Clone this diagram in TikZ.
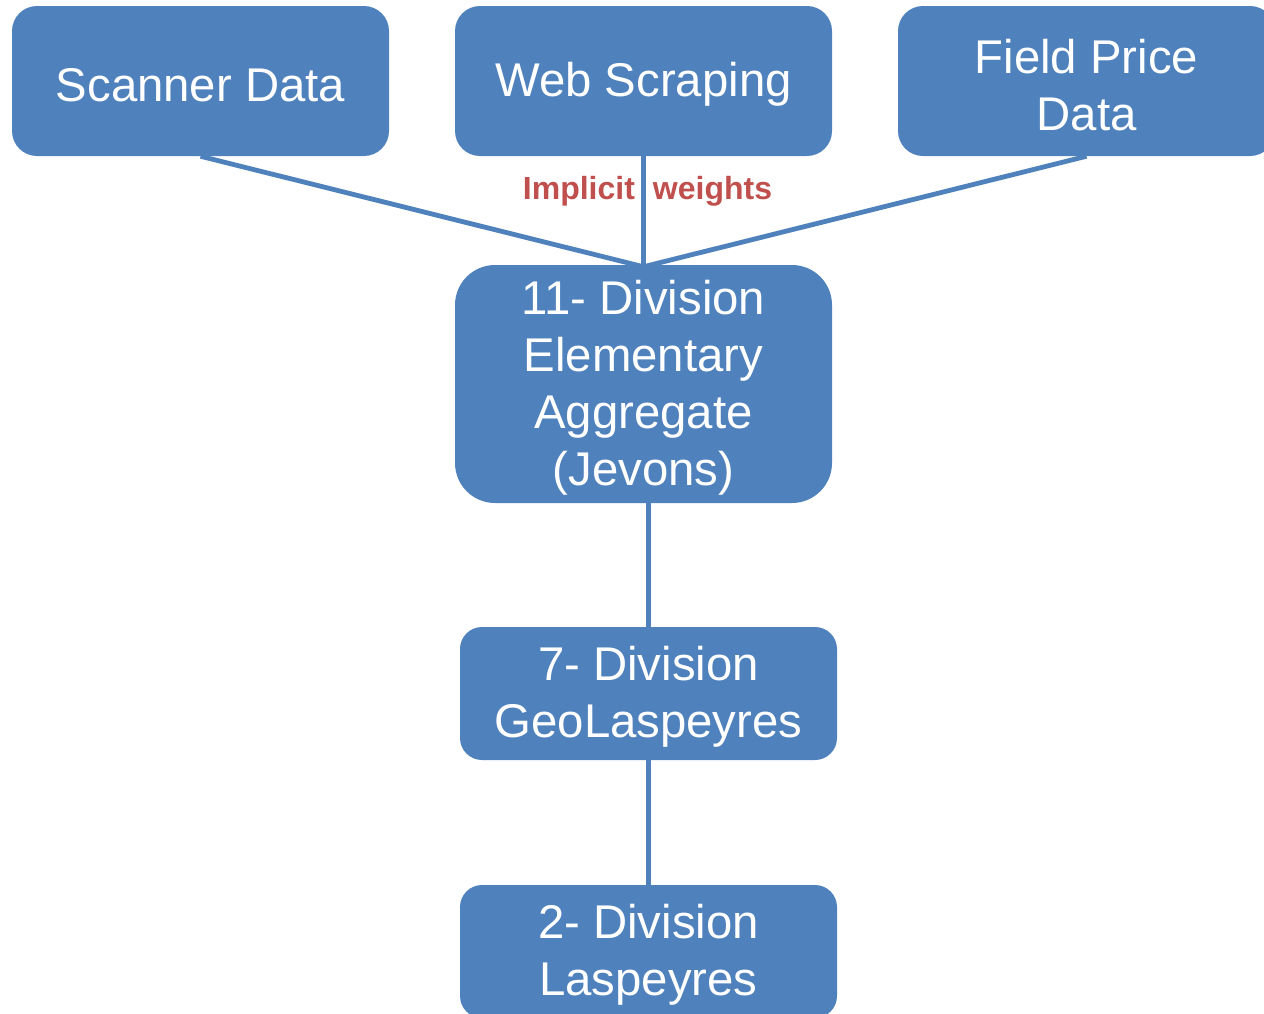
\documentclass[tikz,border=0pt]{standalone}
\usepackage{fontspec}
\setmainfont{Liberation Sans}
\definecolor{boxblue}{HTML}{4F81BD}
\definecolor{labelred}{HTML}{C0504D}
% raises the top line a little so box text sits slightly low, as in slide text frames
\newcommand{\topstrut}{\rule{0pt}{0.88em}}
\begin{document}
\begin{tikzpicture}[x=0.75pt,y=-0.75pt,
  box/.style={fill=boxblue, draw=none, text=white, align=center,
    font=\fontsize{35.5}{42.7}\selectfont, inner sep=0pt},
  topbox/.style={box, minimum width=377*0.75pt, minimum height=150*0.75pt, rounded corners=25*0.75pt},
  link/.style={draw=boxblue, line width=3.6pt},
  lbl/.style={text=labelred, font=\fontsize{24}{28}\selectfont\bfseries}]
\useasboundingbox (0,0) rectangle (1264,1014);
\clip (0,0) rectangle (1264,1014);

% source boxes
\node[topbox] (scan) at (200.5,81) {\topstrut Scanner Data};
\node[topbox] (web) at (643.5,81) {\topstrut Web Scraping};
\node[topbox] (field) at (1086.5,81) {\topstrut Field Price\\Data};

% aggregation levels
\node[box, minimum width=377*0.75pt, minimum height=238*0.75pt, rounded corners=40*0.75pt] (ea) at (643.5,384) {\topstrut 11- Division\\Elementary\\Aggregate\\(Jevons)};
\node[box, minimum width=377*0.75pt, minimum height=133*0.75pt, rounded corners=22*0.75pt] (seven) at (648.5,693.5) {\topstrut 7- Division\\GeoLaspeyres};
\node[box, minimum width=377*0.75pt, minimum height=133*0.75pt, rounded corners=22*0.75pt] (two) at (648.5,951.5) {\topstrut 2- Division\\Laspeyres};

% connectors
\coordinate (meet) at ([yshift=-1.5pt]ea.north);
\draw[link] (scan.south) -- (meet);
\draw[link] (web.south) -- (meet);
\draw[link] (field.south) -- (meet);
\draw[link] (ea.south -| seven.north) -- (seven.north);
\draw[link] (seven.south) -- (two.north);

\node[lbl] (weights) at (647.5,191.5) {Implicit\hspace{13.5pt}weights};
\end{tikzpicture}
\end{document}
